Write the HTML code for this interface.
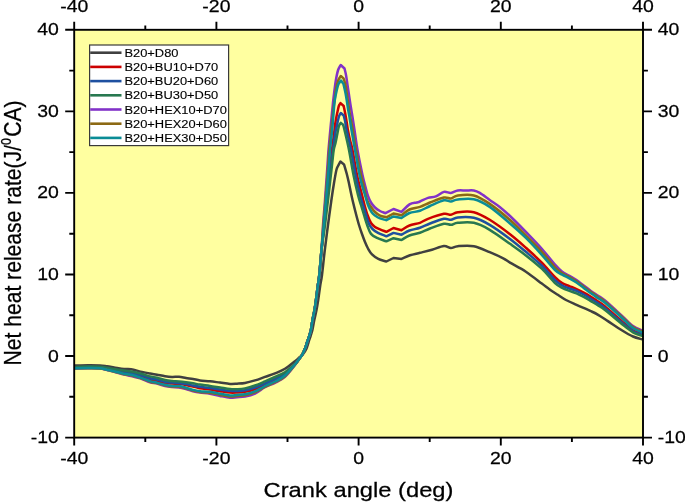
<!DOCTYPE html>
<html><head><meta charset="utf-8"><title>Net heat release rate</title>
<style>html,body{margin:0;padding:0;background:#fff;}body{width:685px;height:502px;overflow:hidden;}svg{display:block;filter:blur(0.4px);}</style>
</head><body>
<svg width="685" height="502" viewBox="0 0 685 502">
<defs><clipPath id="cp"><rect x="74.2" y="29.8" width="568.8" height="407.8"/></clipPath></defs>
<rect x="74.2" y="29.8" width="568.8" height="407.8" fill="#ffffa0"/>
<g clip-path="url(#cp)" fill="none" stroke-width="2.5" stroke-linejoin="round" stroke-linecap="round">
<path d="M74.00,365.60 C76.33,365.53 83.67,365.23 88.00,365.20 C92.33,365.17 96.83,365.22 100.00,365.40 C103.17,365.58 104.67,365.97 107.00,366.30 C109.33,366.63 111.17,366.95 114.00,367.40 C116.83,367.85 121.17,368.68 124.00,369.00 C126.83,369.32 128.00,368.82 131.00,369.30 C134.00,369.78 138.83,371.20 142.00,371.90 C145.17,372.60 147.50,373.03 150.00,373.50 C152.50,373.97 154.50,374.25 157.00,374.70 C159.50,375.15 162.50,375.83 165.00,376.20 C167.50,376.57 169.67,376.80 172.00,376.90 C174.33,377.00 176.67,376.62 179.00,376.80 C181.33,376.98 183.67,377.63 186.00,378.00 C188.33,378.37 190.67,378.60 193.00,379.00 C195.33,379.40 197.17,380.02 200.00,380.40 C202.83,380.78 206.67,380.93 210.00,381.30 C213.33,381.67 216.67,382.17 220.00,382.60 C223.33,383.03 227.17,383.72 230.00,383.90 C232.83,384.08 234.50,383.85 237.00,383.70 C239.50,383.55 242.00,383.55 245.00,383.00 C248.00,382.45 251.67,381.42 255.00,380.40 C258.33,379.38 261.67,378.07 265.00,376.90 C268.33,375.73 271.67,374.75 275.00,373.40 C278.33,372.05 281.67,370.83 285.00,368.80 C288.33,366.77 292.67,363.03 295.00,361.20 C297.33,359.37 297.67,358.97 299.00,357.80 C300.33,356.63 301.78,355.67 303.00,354.20 C304.22,352.73 305.37,351.03 306.30,349.00 C307.23,346.97 307.88,344.17 308.60,342.00 C309.32,339.83 309.97,338.00 310.60,336.00 C311.23,334.00 311.78,332.67 312.40,330.00 C313.02,327.33 313.62,323.33 314.30,320.00 C314.98,316.67 315.85,313.33 316.50,310.00 C317.15,306.67 317.57,304.17 318.20,300.00 C318.83,295.83 319.67,289.17 320.30,285.00 C320.93,280.83 321.25,280.83 322.00,275.00 C322.75,269.17 323.80,258.33 324.80,250.00 C325.80,241.67 326.90,233.33 328.00,225.00 C329.10,216.67 330.40,207.00 331.40,200.00 C332.40,193.00 333.17,188.00 334.00,183.00 C334.83,178.00 335.73,172.83 336.40,170.00 C337.07,167.17 337.33,167.40 338.00,166.00 C338.67,164.60 339.60,163.07 340.40,161.60 L344.00,164.40 C344.40,165.73 344.73,166.80 345.20,168.40 C345.67,170.00 346.22,171.73 346.80,174.00 C347.38,176.27 348.17,179.62 348.70,182.00 C349.23,184.38 349.28,184.97 350.00,188.30 C350.72,191.63 352.00,197.72 353.00,202.00 C354.00,206.28 355.00,210.17 356.00,214.00 C357.00,217.83 358.00,221.67 359.00,225.00 C360.00,228.33 361.00,231.17 362.00,234.00 C363.00,236.83 364.00,239.58 365.00,242.00 C366.00,244.42 366.83,246.43 368.00,248.50 C369.17,250.57 370.28,252.67 372.00,254.40 C373.72,256.13 375.90,257.72 378.30,258.90 C380.70,260.08 383.70,260.63 386.40,261.50 L393.50,258.00 L401.50,258.90 C404.33,257.70 406.92,256.32 410.00,255.30 C413.08,254.28 416.33,253.73 420.00,252.80 C423.67,251.87 428.02,250.82 432.00,249.70 C435.98,248.58 440.75,246.38 443.90,246.10 C447.05,245.82 448.58,247.98 450.90,248.00 C453.22,248.02 453.98,246.50 457.80,246.20 C461.62,245.90 468.48,245.20 473.80,246.20 C479.12,247.20 484.72,250.13 489.70,252.20 C494.68,254.27 500.32,256.85 503.70,258.60 C507.08,260.35 506.30,260.52 510.00,262.70 C513.70,264.88 520.60,268.22 525.90,271.70 C531.20,275.18 537.78,280.58 541.80,283.60 C545.82,286.62 547.33,287.93 550.00,289.80 C552.67,291.67 555.13,293.10 557.80,294.80 C560.47,296.50 562.88,298.32 566.00,300.00 C569.12,301.68 572.35,303.03 576.50,304.90 C580.65,306.77 587.30,309.55 590.90,311.20 C594.50,312.85 595.27,313.15 598.10,314.80 C600.93,316.45 603.95,318.53 607.90,321.10 C611.85,323.67 617.62,327.63 621.80,330.20 C625.98,332.77 629.63,334.98 633.00,336.50 C636.37,338.02 640.50,338.83 642.00,339.30" stroke="#404040"/>
<path d="M74.00,367.80 C76.33,367.73 83.67,367.43 88.00,367.40 C92.33,367.37 96.83,367.35 100.00,367.60 C103.17,367.85 104.67,368.45 107.00,368.90 C109.33,369.35 111.17,369.75 114.00,370.30 C116.83,370.85 121.17,371.67 124.00,372.20 C126.83,372.73 128.00,372.78 131.00,373.50 C134.00,374.22 138.83,375.50 142.00,376.50 C145.17,377.50 147.50,378.75 150.00,379.50 C152.50,380.25 154.50,380.42 157.00,381.00 C159.50,381.58 162.50,382.57 165.00,383.00 C167.50,383.43 169.67,383.47 172.00,383.60 C174.33,383.73 176.67,383.57 179.00,383.80 C181.33,384.03 183.67,384.55 186.00,385.00 C188.33,385.45 190.67,385.97 193.00,386.50 C195.33,387.03 197.17,387.68 200.00,388.20 C202.83,388.72 206.67,389.10 210.00,389.60 C213.33,390.10 216.67,390.70 220.00,391.20 C223.33,391.70 227.17,392.38 230.00,392.60 C232.83,392.82 234.50,392.65 237.00,392.50 C239.50,392.35 242.00,392.25 245.00,391.70 C248.00,391.15 251.67,390.32 255.00,389.20 C258.33,388.08 261.67,386.48 265.00,385.00 C268.33,383.52 271.67,382.03 275.00,380.30 C278.33,378.57 281.67,377.25 285.00,374.60 C288.33,371.95 292.58,367.08 295.00,364.40 C297.42,361.72 298.27,360.18 299.50,358.50 C300.73,356.82 301.48,355.97 302.40,354.30 C303.32,352.63 304.20,350.55 305.00,348.50 C305.80,346.45 306.50,344.08 307.20,342.00 C307.90,339.92 308.58,338.00 309.20,336.00 C309.82,334.00 310.35,332.67 310.90,330.00 C311.45,327.33 311.90,323.33 312.50,320.00 C313.10,316.67 313.92,313.33 314.50,310.00 C315.08,306.67 315.43,304.17 316.00,300.00 C316.57,295.83 317.35,289.17 317.90,285.00 C318.45,280.83 318.70,280.83 319.30,275.00 C319.90,269.17 320.72,258.33 321.50,250.00 C322.28,241.67 323.17,233.33 324.00,225.00 C324.83,216.67 325.42,210.00 326.50,200.00 C327.58,190.00 329.58,173.33 330.50,165.00 C331.42,156.67 331.33,155.83 332.00,150.00 C332.67,144.17 333.98,134.20 334.50,130.00 C335.02,125.80 334.78,126.95 335.10,124.80 C335.42,122.65 335.97,119.43 336.40,117.10 C336.83,114.77 337.28,112.70 337.70,110.80 C338.12,108.90 338.43,106.98 338.90,105.70 C339.37,104.42 339.97,103.97 340.50,103.10 L343.70,106.00 C344.23,108.67 344.77,111.08 345.30,114.00 C345.83,116.92 346.47,120.85 346.90,123.50 C347.33,126.15 347.38,127.15 347.90,129.90 C348.42,132.65 349.23,136.65 350.00,140.00 C350.77,143.35 351.33,144.17 352.50,150.00 C353.67,155.83 355.42,167.50 357.00,175.00 C358.58,182.50 360.75,190.00 362.00,195.00 C363.25,200.00 363.58,201.67 364.50,205.00 C365.42,208.33 366.42,212.00 367.50,215.00 C368.58,218.00 369.75,221.00 371.00,223.00 C372.25,225.00 373.50,225.93 375.00,227.00 C376.50,228.07 378.10,228.60 380.00,229.40 C381.90,230.20 384.27,231.00 386.40,231.80 L393.50,228.00 L401.50,230.20 C404.17,228.63 406.42,226.73 409.50,225.50 C412.58,224.27 416.92,223.92 420.00,222.80 C423.08,221.68 424.02,220.30 428.00,218.80 C431.98,217.30 440.08,214.47 443.90,213.80 C447.72,213.13 448.58,215.07 450.90,214.80 C453.22,214.53 453.98,212.63 457.80,212.20 C461.62,211.77 468.48,210.93 473.80,212.20 C479.12,213.47 483.67,216.12 489.70,219.80 C495.73,223.48 503.97,229.63 510.00,234.30 C516.03,238.97 520.60,243.07 525.90,247.80 C531.20,252.53 536.95,257.82 541.80,262.70 C546.65,267.58 551.60,273.70 555.00,277.10 C558.40,280.50 559.80,281.60 562.20,283.10 C564.60,284.60 567.02,285.10 569.40,286.10 C571.78,287.10 574.12,288.00 576.50,289.10 C578.88,290.20 581.30,291.40 583.70,292.70 C586.10,294.00 588.50,295.43 590.90,296.90 C593.30,298.37 595.75,299.92 598.10,301.50 C600.45,303.08 601.05,303.13 605.00,306.40 C608.95,309.67 617.13,317.13 621.80,321.10 C626.47,325.07 629.63,328.10 633.00,330.20 C636.37,332.30 640.50,333.12 642.00,333.70" stroke="#cc0000"/>
<path d="M74.00,367.50 C76.33,367.43 83.67,367.13 88.00,367.10 C92.33,367.07 96.83,367.07 100.00,367.30 C103.17,367.53 104.67,368.08 107.00,368.50 C109.33,368.92 111.17,369.30 114.00,369.80 C116.83,370.30 121.17,371.02 124.00,371.50 C126.83,371.98 128.00,372.03 131.00,372.70 C134.00,373.37 138.83,374.57 142.00,375.50 C145.17,376.43 147.50,377.62 150.00,378.30 C152.50,378.98 154.50,379.02 157.00,379.60 C159.50,380.18 162.50,381.30 165.00,381.80 C167.50,382.30 169.67,382.40 172.00,382.60 C174.33,382.80 176.67,382.77 179.00,383.00 C181.33,383.23 183.67,383.58 186.00,384.00 C188.33,384.42 190.67,385.03 193.00,385.50 C195.33,385.97 197.17,386.38 200.00,386.80 C202.83,387.22 206.67,387.55 210.00,388.00 C213.33,388.45 216.67,389.03 220.00,389.50 C223.33,389.97 227.17,390.55 230.00,390.80 C232.83,391.05 234.50,391.10 237.00,391.00 C239.50,390.90 242.00,390.78 245.00,390.20 C248.00,389.62 251.67,388.65 255.00,387.50 C258.33,386.35 261.67,384.75 265.00,383.30 C268.33,381.85 271.67,380.42 275.00,378.80 C278.33,377.18 281.67,376.02 285.00,373.60 C288.33,371.18 292.58,366.82 295.00,364.30 C297.42,361.78 298.27,360.17 299.50,358.50 C300.73,356.83 301.48,355.97 302.40,354.30 C303.32,352.63 304.20,350.55 305.00,348.50 C305.80,346.45 306.50,344.08 307.20,342.00 C307.90,339.92 308.58,338.00 309.20,336.00 C309.82,334.00 310.35,332.67 310.90,330.00 C311.45,327.33 311.90,323.33 312.50,320.00 C313.10,316.67 313.92,313.33 314.50,310.00 C315.08,306.67 315.43,304.17 316.00,300.00 C316.57,295.83 317.35,289.17 317.90,285.00 C318.45,280.83 318.70,280.83 319.30,275.00 C319.90,269.17 320.67,258.33 321.50,250.00 C322.33,241.67 323.38,233.33 324.30,225.00 C325.22,216.67 325.85,210.00 327.00,200.00 C328.15,190.00 330.20,173.33 331.20,165.00 C332.20,156.67 332.23,155.83 333.00,150.00 C333.77,144.17 335.18,133.88 335.80,130.00 C336.42,126.12 336.33,128.32 336.70,126.70 C337.07,125.08 337.58,122.10 338.00,120.30 C338.42,118.50 338.73,117.12 339.20,115.90 C339.67,114.68 340.27,113.97 340.80,113.00 L343.70,115.50 C344.23,117.73 344.87,120.02 345.30,122.20 C345.73,124.38 345.35,123.97 346.30,128.60 C347.25,133.23 349.47,142.27 351.00,150.00 C352.53,157.73 354.00,167.50 355.50,175.00 C357.00,182.50 358.75,190.00 360.00,195.00 C361.25,200.00 362.00,201.67 363.00,205.00 C364.00,208.33 365.00,211.83 366.00,215.00 C367.00,218.17 367.92,221.67 369.00,224.00 C370.08,226.33 371.00,227.52 372.50,229.00 C374.00,230.48 375.68,231.68 378.00,232.90 C380.32,234.12 383.60,235.17 386.40,236.30 L393.50,232.90 L401.50,234.70 C404.17,233.30 406.42,231.65 409.50,230.50 C412.58,229.35 416.58,228.97 420.00,227.80 C423.42,226.63 426.02,225.00 430.00,223.50 C433.98,222.00 440.42,219.42 443.90,218.80 C447.38,218.18 448.58,220.03 450.90,219.80 C453.22,219.57 453.98,217.73 457.80,217.40 C461.62,217.07 468.48,216.57 473.80,217.80 C479.12,219.03 483.67,221.28 489.70,224.80 C495.73,228.32 503.97,234.40 510.00,238.90 C516.03,243.40 520.60,247.33 525.90,251.80 C531.20,256.27 536.95,260.98 541.80,265.70 C546.65,270.42 551.60,276.80 555.00,280.10 C558.40,283.40 559.80,284.10 562.20,285.50 C564.60,286.90 567.02,287.60 569.40,288.50 C571.78,289.40 574.12,289.90 576.50,290.90 C578.88,291.90 581.30,293.20 583.70,294.50 C586.10,295.80 588.50,297.23 590.90,298.70 C593.30,300.17 595.75,301.72 598.10,303.30 C600.45,304.88 601.05,305.00 605.00,308.20 C608.95,311.40 617.13,318.67 621.80,322.50 C626.47,326.33 629.63,329.15 633.00,331.20 C636.37,333.25 640.50,334.20 642.00,334.80" stroke="#1e50a0"/>
<path d="M74.00,367.00 C76.33,366.93 83.67,366.63 88.00,366.60 C92.33,366.57 96.83,366.60 100.00,366.80 C103.17,367.00 104.67,367.43 107.00,367.80 C109.33,368.17 111.17,368.53 114.00,369.00 C116.83,369.47 121.17,370.18 124.00,370.60 C126.83,371.02 128.00,370.93 131.00,371.50 C134.00,372.07 138.83,373.18 142.00,374.00 C145.17,374.82 147.50,375.77 150.00,376.40 C152.50,377.03 154.50,377.20 157.00,377.80 C159.50,378.40 162.50,379.47 165.00,380.00 C167.50,380.53 169.67,380.75 172.00,381.00 C174.33,381.25 176.67,381.28 179.00,381.50 C181.33,381.72 183.67,382.00 186.00,382.30 C188.33,382.60 190.67,382.92 193.00,383.30 C195.33,383.68 197.17,384.17 200.00,384.60 C202.83,385.03 206.67,385.42 210.00,385.90 C213.33,386.38 216.67,386.97 220.00,387.50 C223.33,388.03 227.17,388.82 230.00,389.10 C232.83,389.38 234.50,389.32 237.00,389.20 C239.50,389.08 242.00,389.02 245.00,388.40 C248.00,387.78 251.67,386.67 255.00,385.50 C258.33,384.33 261.67,382.82 265.00,381.40 C268.33,379.98 271.67,378.53 275.00,377.00 C278.33,375.47 281.67,374.37 285.00,372.20 C288.33,370.03 292.58,366.28 295.00,364.00 C297.42,361.72 298.27,360.12 299.50,358.50 C300.73,356.88 301.48,355.97 302.40,354.30 C303.32,352.63 304.20,350.55 305.00,348.50 C305.80,346.45 306.50,344.08 307.20,342.00 C307.90,339.92 308.58,338.00 309.20,336.00 C309.82,334.00 310.35,332.67 310.90,330.00 C311.45,327.33 311.90,323.33 312.50,320.00 C313.10,316.67 313.92,313.33 314.50,310.00 C315.08,306.67 315.43,304.17 316.00,300.00 C316.57,295.83 317.35,289.17 317.90,285.00 C318.45,280.83 318.70,280.83 319.30,275.00 C319.90,269.17 320.55,258.33 321.50,250.00 C322.45,241.67 323.92,233.33 325.00,225.00 C326.08,216.67 326.83,210.00 328.00,200.00 C329.17,190.00 331.05,173.33 332.00,165.00 C332.95,156.67 333.12,153.67 333.70,150.00 C334.28,146.33 334.90,145.67 335.50,143.00 C336.10,140.33 336.73,136.82 337.30,134.00 C337.87,131.18 338.32,127.95 338.90,126.10 C339.48,124.25 340.17,123.97 340.80,122.90 L343.10,124.80 C343.57,126.53 343.52,125.80 344.50,130.00 C345.48,134.20 347.50,142.50 349.00,150.00 C350.50,157.50 352.00,167.50 353.50,175.00 C355.00,182.50 356.75,190.00 358.00,195.00 C359.25,200.00 360.00,201.67 361.00,205.00 C362.00,208.33 362.92,211.50 364.00,215.00 C365.08,218.50 366.33,222.85 367.50,226.00 C368.67,229.15 369.42,231.92 371.00,233.90 C372.58,235.88 374.43,236.67 377.00,237.90 C379.57,239.13 383.27,240.17 386.40,241.30 L393.50,238.20 L401.50,240.00 C404.17,238.50 406.42,236.72 409.50,235.50 C412.58,234.28 416.58,233.87 420.00,232.70 C423.42,231.53 426.02,229.98 430.00,228.50 C433.98,227.02 440.42,224.42 443.90,223.80 C447.38,223.18 448.58,224.97 450.90,224.80 C453.22,224.63 453.98,223.13 457.80,222.80 C461.62,222.47 468.48,221.63 473.80,222.80 C479.12,223.97 483.67,226.30 489.70,229.80 C495.73,233.30 503.97,239.53 510.00,243.80 C516.03,248.07 520.60,251.25 525.90,255.40 C531.20,259.55 536.95,264.08 541.80,268.70 C546.65,273.32 551.60,279.90 555.00,283.10 C558.40,286.30 559.80,286.60 562.20,287.90 C564.60,289.20 567.02,290.00 569.40,290.90 C571.78,291.80 574.12,292.30 576.50,293.30 C578.88,294.30 581.30,295.60 583.70,296.90 C586.10,298.20 588.50,299.68 590.90,301.10 C593.30,302.52 595.75,303.92 598.10,305.40 C600.45,306.88 601.05,306.92 605.00,310.00 C608.95,313.08 617.13,320.18 621.80,323.90 C626.47,327.62 629.63,330.32 633.00,332.30 C636.37,334.28 640.50,335.22 642.00,335.80" stroke="#287850"/>
<path d="M74.00,368.50 C76.33,368.47 83.67,368.30 88.00,368.30 C92.33,368.30 96.83,368.20 100.00,368.50 C103.17,368.80 104.67,369.55 107.00,370.10 C109.33,370.65 111.17,371.07 114.00,371.80 C116.83,372.53 121.17,373.80 124.00,374.50 C126.83,375.20 128.00,375.25 131.00,376.00 C134.00,376.75 138.83,377.95 142.00,379.00 C145.17,380.05 147.50,381.53 150.00,382.30 C152.50,383.07 154.50,382.98 157.00,383.60 C159.50,384.22 162.50,385.43 165.00,386.00 C167.50,386.57 169.67,386.77 172.00,387.00 C174.33,387.23 176.67,387.07 179.00,387.40 C181.33,387.73 183.67,388.37 186.00,389.00 C188.33,389.63 190.67,390.60 193.00,391.20 C195.33,391.80 197.17,392.18 200.00,392.60 C202.83,393.02 206.67,393.15 210.00,393.70 C213.33,394.25 216.67,395.23 220.00,395.90 C223.33,396.57 227.17,397.48 230.00,397.70 C232.83,397.92 234.50,397.38 237.00,397.20 C239.50,397.02 242.00,397.22 245.00,396.60 C248.00,395.98 251.67,395.07 255.00,393.50 C258.33,391.93 261.67,388.98 265.00,387.20 C268.33,385.42 271.67,384.53 275.00,382.80 C278.33,381.07 281.67,379.77 285.00,376.80 C288.33,373.83 292.58,368.05 295.00,365.00 C297.42,361.95 298.27,360.28 299.50,358.50 C300.73,356.72 301.48,355.97 302.40,354.30 C303.32,352.63 304.20,350.55 305.00,348.50 C305.80,346.45 306.50,344.08 307.20,342.00 C307.90,339.92 308.58,338.00 309.20,336.00 C309.82,334.00 310.35,332.67 310.90,330.00 C311.45,327.33 311.90,323.33 312.50,320.00 C313.10,316.67 313.92,313.33 314.50,310.00 C315.08,306.67 315.43,304.17 316.00,300.00 C316.57,295.83 317.35,289.17 317.90,285.00 C318.45,280.83 318.70,280.83 319.30,275.00 C319.90,269.17 320.88,258.33 321.50,250.00 C322.12,241.67 322.42,233.33 323.00,225.00 C323.58,216.67 324.25,210.00 325.00,200.00 C325.75,190.00 326.92,173.33 327.50,165.00 C328.08,156.67 328.03,155.83 328.50,150.00 C328.97,144.17 329.67,136.67 330.30,130.00 C330.93,123.33 331.80,115.00 332.30,110.00 C332.80,105.00 332.93,103.33 333.30,100.00 C333.67,96.67 334.07,93.33 334.50,90.00 C334.93,86.67 335.30,83.33 335.90,80.00 C336.50,76.67 337.30,72.50 338.10,70.00 C338.90,67.50 339.83,66.67 340.70,65.00 L344.50,68.50 C345.00,70.67 345.50,72.25 346.00,75.00 C346.50,77.75 347.00,81.67 347.50,85.00 C348.00,88.33 348.50,91.67 349.00,95.00 C349.50,98.33 349.92,101.33 350.50,105.00 C351.08,108.67 351.83,112.83 352.50,117.00 C353.17,121.17 353.67,124.50 354.50,130.00 C355.33,135.50 356.17,142.50 357.50,150.00 C358.83,157.50 361.17,168.83 362.50,175.00 C363.83,181.17 364.58,183.50 365.50,187.00 C366.42,190.50 367.08,193.42 368.00,196.00 C368.92,198.58 369.83,200.58 371.00,202.50 C372.17,204.42 373.50,206.08 375.00,207.50 C376.50,208.92 378.25,210.05 380.00,211.00 C381.75,211.95 383.67,212.47 385.50,213.20 L393.50,209.00 L401.50,211.90 C404.17,209.40 406.98,205.97 409.50,204.40 C412.02,202.83 414.85,202.98 416.60,202.50 C418.35,202.02 418.10,202.27 420.00,201.50 C421.90,200.73 425.35,198.77 428.00,197.90 C430.65,197.03 433.25,197.30 435.90,196.30 C438.55,195.30 441.40,192.47 443.90,191.90 C446.40,191.33 448.58,193.13 450.90,192.90 C453.22,192.67 455.32,190.90 457.80,190.50 C460.28,190.10 463.13,190.50 465.80,190.50 C468.47,190.50 471.47,190.10 473.80,190.50 C476.13,190.90 477.15,191.33 479.80,192.90 C482.45,194.47 486.38,197.57 489.70,199.90 C493.02,202.23 496.32,204.22 499.70,206.90 C503.08,209.58 505.63,211.83 510.00,216.00 C514.37,220.17 520.60,226.43 525.90,231.90 C531.20,237.37 536.95,243.35 541.80,248.80 C546.65,254.25 551.60,260.78 555.00,264.60 C558.40,268.42 559.80,269.82 562.20,271.70 C564.60,273.58 567.02,274.50 569.40,275.90 C571.78,277.30 574.12,278.50 576.50,280.10 C578.88,281.70 581.30,283.70 583.70,285.50 C586.10,287.30 588.50,289.20 590.90,290.90 C593.30,292.60 595.75,294.10 598.10,295.70 C600.45,297.30 601.05,297.18 605.00,300.50 C608.95,303.82 617.13,311.35 621.80,315.60 C626.47,319.85 629.63,323.57 633.00,326.00 C636.37,328.43 640.50,329.50 642.00,330.20" stroke="#8232c8"/>
<path d="M74.00,368.40 C76.33,368.37 83.67,368.20 88.00,368.20 C92.33,368.20 96.83,368.12 100.00,368.40 C103.17,368.68 104.67,369.38 107.00,369.90 C109.33,370.42 111.17,370.78 114.00,371.50 C116.83,372.22 121.17,373.55 124.00,374.20 C126.83,374.85 128.00,374.68 131.00,375.40 C134.00,376.12 138.83,377.45 142.00,378.50 C145.17,379.55 147.50,380.93 150.00,381.70 C152.50,382.47 154.50,382.48 157.00,383.10 C159.50,383.72 162.50,384.83 165.00,385.40 C167.50,385.97 169.67,386.27 172.00,386.50 C174.33,386.73 176.67,386.50 179.00,386.80 C181.33,387.10 183.67,387.68 186.00,388.30 C188.33,388.92 190.67,389.90 193.00,390.50 C195.33,391.10 197.17,391.53 200.00,391.90 C202.83,392.27 206.67,392.22 210.00,392.70 C213.33,393.18 216.67,394.17 220.00,394.80 C223.33,395.43 227.17,396.30 230.00,396.50 C232.83,396.70 234.50,396.20 237.00,396.00 C239.50,395.80 242.00,395.90 245.00,395.30 C248.00,394.70 251.67,393.83 255.00,392.40 C258.33,390.97 261.67,388.40 265.00,386.70 C268.33,385.00 271.67,383.95 275.00,382.20 C278.33,380.45 281.67,379.12 285.00,376.20 C288.33,373.28 292.58,367.65 295.00,364.70 C297.42,361.75 298.27,360.23 299.50,358.50 C300.73,356.77 301.48,355.97 302.40,354.30 C303.32,352.63 304.20,350.55 305.00,348.50 C305.80,346.45 306.50,344.08 307.20,342.00 C307.90,339.92 308.58,338.00 309.20,336.00 C309.82,334.00 310.35,332.67 310.90,330.00 C311.45,327.33 311.90,323.33 312.50,320.00 C313.10,316.67 313.92,313.33 314.50,310.00 C315.08,306.67 315.43,304.17 316.00,300.00 C316.57,295.83 317.35,289.17 317.90,285.00 C318.45,280.83 318.70,280.83 319.30,275.00 C319.90,269.17 320.82,258.33 321.50,250.00 C322.18,241.67 322.73,233.33 323.40,225.00 C324.07,216.67 324.70,210.00 325.50,200.00 C326.30,190.00 327.58,173.33 328.20,165.00 C328.82,156.67 328.68,155.83 329.20,150.00 C329.72,144.17 330.62,136.67 331.30,130.00 C331.98,123.33 332.75,115.00 333.30,110.00 C333.85,105.00 334.12,103.67 334.60,100.00 C335.08,96.33 335.57,91.33 336.20,88.00 C336.83,84.67 337.63,82.00 338.40,80.00 C339.17,78.00 340.00,77.33 340.80,76.00 L343.50,78.40 C344.17,80.60 344.92,82.23 345.50,85.00 C346.08,87.77 346.50,91.67 347.00,95.00 C347.50,98.33 347.95,101.33 348.50,105.00 C349.05,108.67 349.58,112.83 350.30,117.00 C351.02,121.17 351.85,124.50 352.80,130.00 C353.75,135.50 354.63,142.50 356.00,150.00 C357.37,157.50 359.75,169.17 361.00,175.00 C362.25,180.83 362.50,180.83 363.50,185.00 C364.50,189.17 365.75,196.33 367.00,200.00 C368.25,203.67 369.67,205.00 371.00,207.00 C372.33,209.00 373.50,210.57 375.00,212.00 C376.50,213.43 378.10,214.72 380.00,215.60 C381.90,216.48 384.27,216.73 386.40,217.30 L393.50,213.50 L401.50,215.30 C404.17,213.37 406.42,210.90 409.50,209.50 C412.58,208.10 416.58,208.07 420.00,206.90 C423.42,205.73 426.02,204.07 430.00,202.50 C433.98,200.93 440.42,198.17 443.90,197.50 C447.38,196.83 448.58,198.83 450.90,198.50 C453.22,198.17 453.98,196.00 457.80,195.50 C461.62,195.00 468.48,194.10 473.80,195.50 C479.12,196.90 483.67,199.82 489.70,203.90 C495.73,207.98 503.97,214.73 510.00,220.00 C516.03,225.27 520.60,230.20 525.90,235.50 C531.20,240.80 536.95,246.50 541.80,251.80 C546.65,257.10 551.60,263.73 555.00,267.30 C558.40,270.87 559.80,271.57 562.20,273.20 C564.60,274.83 567.02,275.75 569.40,277.10 C571.78,278.45 574.12,279.70 576.50,281.30 C578.88,282.90 581.30,284.90 583.70,286.70 C586.10,288.50 588.50,290.38 590.90,292.10 C593.30,293.82 595.75,295.42 598.10,297.00 C600.45,298.58 601.05,298.33 605.00,301.60 C608.95,304.87 617.13,312.37 621.80,316.60 C626.47,320.83 629.63,324.57 633.00,327.00 C636.37,329.43 640.50,330.50 642.00,331.20" stroke="#8c6914"/>
<path d="M74.00,368.30 C76.33,368.27 83.67,368.10 88.00,368.10 C92.33,368.10 96.83,368.03 100.00,368.30 C103.17,368.57 104.67,369.22 107.00,369.70 C109.33,370.18 111.17,370.52 114.00,371.20 C116.83,371.88 121.17,373.20 124.00,373.80 C126.83,374.40 128.00,374.08 131.00,374.80 C134.00,375.52 138.83,377.05 142.00,378.10 C145.17,379.15 147.50,380.35 150.00,381.10 C152.50,381.85 154.50,381.98 157.00,382.60 C159.50,383.22 162.50,384.25 165.00,384.80 C167.50,385.35 169.67,385.68 172.00,385.90 C174.33,386.12 176.67,385.80 179.00,386.10 C181.33,386.40 183.67,387.07 186.00,387.70 C188.33,388.33 190.67,389.32 193.00,389.90 C195.33,390.48 197.17,390.88 200.00,391.20 C202.83,391.52 206.67,391.38 210.00,391.80 C213.33,392.22 216.67,393.08 220.00,393.70 C223.33,394.32 227.17,395.28 230.00,395.50 C232.83,395.72 234.50,395.20 237.00,395.00 C239.50,394.80 242.00,394.90 245.00,394.30 C248.00,393.70 251.67,392.78 255.00,391.40 C258.33,390.02 261.67,387.65 265.00,386.00 C268.33,384.35 271.67,383.25 275.00,381.50 C278.33,379.75 281.67,378.33 285.00,375.50 C288.33,372.67 292.58,367.33 295.00,364.50 C297.42,361.67 298.27,360.20 299.50,358.50 C300.73,356.80 301.48,355.97 302.40,354.30 C303.32,352.63 304.20,350.55 305.00,348.50 C305.80,346.45 306.50,344.08 307.20,342.00 C307.90,339.92 308.58,338.00 309.20,336.00 C309.82,334.00 310.35,332.67 310.90,330.00 C311.45,327.33 311.90,323.33 312.50,320.00 C313.10,316.67 313.92,313.33 314.50,310.00 C315.08,306.67 315.43,304.17 316.00,300.00 C316.57,295.83 317.35,289.17 317.90,285.00 C318.45,280.83 318.70,280.83 319.30,275.00 C319.90,269.17 320.75,258.33 321.50,250.00 C322.25,241.67 323.05,233.33 323.80,225.00 C324.55,216.67 325.15,210.00 326.00,200.00 C326.85,190.00 328.23,173.33 328.90,165.00 C329.57,156.67 329.45,155.83 330.00,150.00 C330.55,144.17 331.57,136.67 332.20,130.00 C332.83,123.33 333.37,115.00 333.80,110.00 C334.23,105.00 334.30,103.33 334.80,100.00 C335.30,96.67 336.18,92.67 336.80,90.00 C337.42,87.33 337.80,85.58 338.50,84.00 C339.20,82.42 340.17,81.67 341.00,80.50 L343.50,84.00 C344.17,87.00 344.92,90.00 345.50,93.00 C346.08,96.00 346.55,99.17 347.00,102.00 C347.45,104.83 347.78,107.50 348.20,110.00 C348.62,112.50 348.95,113.67 349.50,117.00 C350.05,120.33 350.58,124.50 351.50,130.00 C352.42,135.50 353.67,142.50 355.00,150.00 C356.33,157.50 358.25,168.83 359.50,175.00 C360.75,181.17 361.58,183.67 362.50,187.00 C363.42,190.33 364.08,192.00 365.00,195.00 C365.92,198.00 366.92,202.17 368.00,205.00 C369.08,207.83 370.33,210.27 371.50,212.00 C372.67,213.73 373.58,214.33 375.00,215.40 C376.42,216.47 378.10,217.60 380.00,218.40 C381.90,219.20 384.27,219.60 386.40,220.20 L393.50,216.40 L401.50,218.00 C404.17,216.33 406.42,214.20 409.50,213.00 C412.58,211.80 416.58,211.97 420.00,210.80 C423.42,209.63 426.02,207.75 430.00,206.00 C433.98,204.25 440.42,201.05 443.90,200.30 C447.38,199.55 448.58,201.63 450.90,201.50 C453.22,201.37 453.98,199.87 457.80,199.50 C461.62,199.13 468.48,198.07 473.80,199.30 C479.12,200.53 483.67,202.87 489.70,206.90 C495.73,210.93 503.97,218.33 510.00,223.50 C516.03,228.67 520.60,232.68 525.90,237.90 C531.20,243.12 536.95,249.45 541.80,254.80 C546.65,260.15 551.60,266.68 555.00,270.00 C558.40,273.32 559.80,273.32 562.20,274.70 C564.60,276.08 567.02,277.00 569.40,278.30 C571.78,279.60 574.12,280.90 576.50,282.50 C578.88,284.10 581.30,286.10 583.70,287.90 C586.10,289.70 588.50,291.58 590.90,293.30 C593.30,295.02 595.75,296.62 598.10,298.20 C600.45,299.78 601.05,299.55 605.00,302.80 C608.95,306.05 617.13,313.48 621.80,317.70 C626.47,321.92 629.63,325.67 633.00,328.10 C636.37,330.53 640.50,331.60 642.00,332.30" stroke="#0a8c96"/>
</g>
<rect x="74.2" y="29.8" width="568.8" height="407.8" fill="none" stroke="#000" stroke-width="1.9"/>
<path d="M74.20,437.60V445.60M74.20,29.80V21.80M145.30,437.60V441.90M145.30,29.80V25.50M216.40,437.60V445.60M216.40,29.80V21.80M287.50,437.60V441.90M287.50,29.80V25.50M358.60,437.60V445.60M358.60,29.80V21.80M429.70,437.60V441.90M429.70,29.80V25.50M500.80,437.60V445.60M500.80,29.80V21.80M571.90,437.60V441.90M571.90,29.80V25.50M643.00,437.60V445.60M643.00,29.80V21.80M74.20,437.60H65.20M643.00,437.60H652.00M74.20,396.82H69.30M643.00,396.82H647.90M74.20,356.04H65.20M643.00,356.04H652.00M74.20,315.26H69.30M643.00,315.26H647.90M74.20,274.48H65.20M643.00,274.48H652.00M74.20,233.70H69.30M643.00,233.70H647.90M74.20,192.92H65.20M643.00,192.92H652.00M74.20,152.14H69.30M643.00,152.14H647.90M74.20,111.36H65.20M643.00,111.36H652.00M74.20,70.58H69.30M643.00,70.58H647.90M74.20,29.80H65.20M643.00,29.80H652.00" stroke="#000" stroke-width="1.9" fill="none"/>
<text transform="translate(74.20,464.30) scale(1.130,1)" font-family='"Liberation Sans", sans-serif' font-size="17.20" text-anchor="middle" fill="#000" stroke="#000" stroke-width="0.25">-40</text>
<text transform="translate(74.20,12.00) scale(1.130,1)" font-family='"Liberation Sans", sans-serif' font-size="17.20" text-anchor="middle" fill="#000" stroke="#000" stroke-width="0.25">-40</text>
<text transform="translate(216.40,464.30) scale(1.130,1)" font-family='"Liberation Sans", sans-serif' font-size="17.20" text-anchor="middle" fill="#000" stroke="#000" stroke-width="0.25">-20</text>
<text transform="translate(216.40,12.00) scale(1.130,1)" font-family='"Liberation Sans", sans-serif' font-size="17.20" text-anchor="middle" fill="#000" stroke="#000" stroke-width="0.25">-20</text>
<text transform="translate(358.60,464.30) scale(1.130,1)" font-family='"Liberation Sans", sans-serif' font-size="17.20" text-anchor="middle" fill="#000" stroke="#000" stroke-width="0.25">0</text>
<text transform="translate(358.60,12.00) scale(1.130,1)" font-family='"Liberation Sans", sans-serif' font-size="17.20" text-anchor="middle" fill="#000" stroke="#000" stroke-width="0.25">0</text>
<text transform="translate(500.80,464.30) scale(1.130,1)" font-family='"Liberation Sans", sans-serif' font-size="17.20" text-anchor="middle" fill="#000" stroke="#000" stroke-width="0.25">20</text>
<text transform="translate(500.80,12.00) scale(1.130,1)" font-family='"Liberation Sans", sans-serif' font-size="17.20" text-anchor="middle" fill="#000" stroke="#000" stroke-width="0.25">20</text>
<text transform="translate(643.00,464.30) scale(1.130,1)" font-family='"Liberation Sans", sans-serif' font-size="17.20" text-anchor="middle" fill="#000" stroke="#000" stroke-width="0.25">40</text>
<text transform="translate(643.00,12.00) scale(1.130,1)" font-family='"Liberation Sans", sans-serif' font-size="17.20" text-anchor="middle" fill="#000" stroke="#000" stroke-width="0.25">40</text>
<text transform="translate(58.90,443.10) scale(1.130,1)" font-family='"Liberation Sans", sans-serif' font-size="17.20" text-anchor="end" fill="#000" stroke="#000" stroke-width="0.25">-10</text>
<text transform="translate(657.80,443.10) scale(1.130,1)" font-family='"Liberation Sans", sans-serif' font-size="17.20" text-anchor="start" fill="#000" stroke="#000" stroke-width="0.25">-10</text>
<text transform="translate(58.90,361.54) scale(1.130,1)" font-family='"Liberation Sans", sans-serif' font-size="17.20" text-anchor="end" fill="#000" stroke="#000" stroke-width="0.25">0</text>
<text transform="translate(657.80,361.54) scale(1.130,1)" font-family='"Liberation Sans", sans-serif' font-size="17.20" text-anchor="start" fill="#000" stroke="#000" stroke-width="0.25">0</text>
<text transform="translate(58.90,279.98) scale(1.130,1)" font-family='"Liberation Sans", sans-serif' font-size="17.20" text-anchor="end" fill="#000" stroke="#000" stroke-width="0.25">10</text>
<text transform="translate(657.80,279.98) scale(1.130,1)" font-family='"Liberation Sans", sans-serif' font-size="17.20" text-anchor="start" fill="#000" stroke="#000" stroke-width="0.25">10</text>
<text transform="translate(58.90,198.42) scale(1.130,1)" font-family='"Liberation Sans", sans-serif' font-size="17.20" text-anchor="end" fill="#000" stroke="#000" stroke-width="0.25">20</text>
<text transform="translate(657.80,198.42) scale(1.130,1)" font-family='"Liberation Sans", sans-serif' font-size="17.20" text-anchor="start" fill="#000" stroke="#000" stroke-width="0.25">20</text>
<text transform="translate(58.90,116.86) scale(1.130,1)" font-family='"Liberation Sans", sans-serif' font-size="17.20" text-anchor="end" fill="#000" stroke="#000" stroke-width="0.25">30</text>
<text transform="translate(657.80,116.86) scale(1.130,1)" font-family='"Liberation Sans", sans-serif' font-size="17.20" text-anchor="start" fill="#000" stroke="#000" stroke-width="0.25">30</text>
<text transform="translate(58.90,35.30) scale(1.130,1)" font-family='"Liberation Sans", sans-serif' font-size="17.20" text-anchor="end" fill="#000" stroke="#000" stroke-width="0.25">40</text>
<text transform="translate(657.80,35.30) scale(1.130,1)" font-family='"Liberation Sans", sans-serif' font-size="17.20" text-anchor="start" fill="#000" stroke="#000" stroke-width="0.25">40</text>
<text transform="translate(358.50,497.00) scale(1.130,1)" font-family='"Liberation Sans", sans-serif' font-size="21.00" text-anchor="middle" fill="#000" stroke="#000" stroke-width="0.25">Crank angle (deg)</text>
<text transform="translate(21.1,233.0) scale(1.16,1) rotate(-90)" font-family='"Liberation Sans", sans-serif' font-size="21.1" text-anchor="middle" fill="#000" stroke="#000" stroke-width="0.25">Net heat release rate(J/<tspan font-size="12.4" dy="-9.0">0</tspan><tspan dy="9.0" dx="1.3">CA)</tspan></text>
<rect x="89.6" y="45" width="139" height="100.6" fill="#fff" stroke="#3a3a3a" stroke-width="1.2"/>
<path d="M90.2,52.70H121.5" stroke="#404040" stroke-width="2.6"/>
<text transform="translate(124.40,56.70) scale(1.142,1)" font-family='"Liberation Sans", sans-serif' font-size="11.30" text-anchor="start" fill="#000" stroke="#000" stroke-width="0.12">B20+D80</text>
<path d="M90.2,66.90H121.5" stroke="#cc0000" stroke-width="2.6"/>
<text transform="translate(124.40,70.90) scale(1.142,1)" font-family='"Liberation Sans", sans-serif' font-size="11.30" text-anchor="start" fill="#000" stroke="#000" stroke-width="0.12">B20+BU10+D70</text>
<path d="M90.2,81.10H121.5" stroke="#1e50a0" stroke-width="2.6"/>
<text transform="translate(124.40,85.10) scale(1.142,1)" font-family='"Liberation Sans", sans-serif' font-size="11.30" text-anchor="start" fill="#000" stroke="#000" stroke-width="0.12">B20+BU20+D60</text>
<path d="M90.2,95.30H121.5" stroke="#287850" stroke-width="2.6"/>
<text transform="translate(124.40,99.30) scale(1.142,1)" font-family='"Liberation Sans", sans-serif' font-size="11.30" text-anchor="start" fill="#000" stroke="#000" stroke-width="0.12">B20+BU30+D50</text>
<path d="M90.2,109.50H121.5" stroke="#8232c8" stroke-width="2.6"/>
<text transform="translate(124.40,113.50) scale(1.142,1)" font-family='"Liberation Sans", sans-serif' font-size="11.30" text-anchor="start" fill="#000" stroke="#000" stroke-width="0.12">B20+HEX10+D70</text>
<path d="M90.2,123.70H121.5" stroke="#8c6914" stroke-width="2.6"/>
<text transform="translate(124.40,127.70) scale(1.142,1)" font-family='"Liberation Sans", sans-serif' font-size="11.30" text-anchor="start" fill="#000" stroke="#000" stroke-width="0.12">B20+HEX20+D60</text>
<path d="M90.2,137.90H121.5" stroke="#0a8c96" stroke-width="2.6"/>
<text transform="translate(124.40,141.90) scale(1.142,1)" font-family='"Liberation Sans", sans-serif' font-size="11.30" text-anchor="start" fill="#000" stroke="#000" stroke-width="0.12">B20+HEX30+D50</text>
</svg>
</body></html>
